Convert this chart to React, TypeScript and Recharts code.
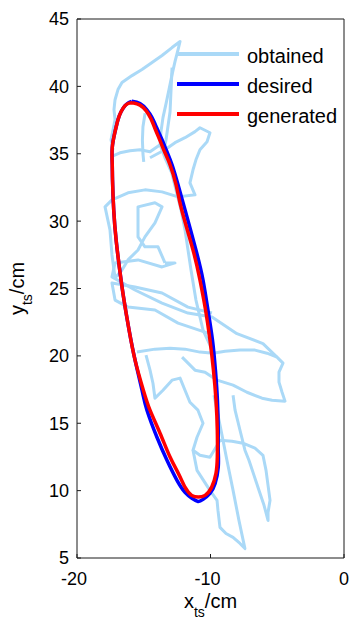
import { LineChart, Line, XAxis, YAxis } from "recharts";

// axis ticks
const xTicks = [-20, -10, 0];
const yTicks = [5, 10, 15, 20, 25, 30, 35, 40, 45];

// desired trajectory (blue), [x, y] in cm
const desired = [
  [-15.9, 38.89], [-15.28, 38.72], [-14.78, 38.27], [-14.38, 37.68], [-14.03, 36.93],
  [-13.63, 36.04], [-13.26, 35.15], [-12.88, 34.18], [-12.43, 32.7], [-11.91, 30.84],
  [-11.09, 27.86], [-10.56, 25.63], [-10.19, 23.4], [-9.85, 21.17], [-9.63, 18.94],
  [-9.48, 16.71], [-9.42, 14.48], [-9.42, 13.0], [-9.42, 11.73], [-9.66, 10.52],
  [-10.04, 9.8], [-10.56, 9.35], [-10.94, 9.2], [-11.39, 9.43], [-11.91, 9.87],
  [-12.51, 10.76], [-13.26, 12.25], [-14.01, 13.96], [-14.76, 15.97], [-15.13, 17.45],
  [-15.65, 19.68], [-16.1, 21.92], [-16.48, 24.14], [-16.8, 26.38], [-17.07, 28.61],
  [-17.25, 30.84], [-17.34, 33.07], [-17.36, 34.18], [-17.36, 35.45], [-17.15, 36.64],
  [-16.93, 37.53], [-16.7, 38.12], [-16.4, 38.57], [-16.14, 38.79], [-15.9, 38.89],
];

// generated trajectory (red)
const generated = [
  [-15.84, 38.79], [-15.28, 38.61], [-14.83, 38.2], [-14.46, 37.6], [-14.12, 36.78],
  [-13.78, 35.97], [-13.41, 35.07], [-13.03, 34.18], [-12.58, 32.7], [-12.16, 30.84],
  [-11.31, 27.86], [-10.79, 25.63], [-10.37, 23.4], [-10.04, 21.17], [-9.78, 18.94],
  [-9.59, 16.71], [-9.49, 14.48], [-9.49, 12.47], [-9.59, 11.28], [-9.91, 10.26],
  [-10.41, 9.65], [-10.91, 9.52], [-11.41, 9.65], [-11.91, 10.26], [-12.41, 11.28],
  [-13.03, 12.49], [-13.78, 14.26], [-14.53, 15.97], [-15.03, 17.45], [-15.65, 19.68],
  [-16.1, 21.92], [-16.48, 24.14], [-16.8, 26.38], [-17.07, 28.61], [-17.25, 30.84],
  [-17.34, 33.07], [-17.36, 34.18], [-17.36, 35.45], [-17.15, 36.64], [-16.93, 37.53],
  [-16.7, 38.12], [-16.4, 38.57], [-16.1, 38.76], [-15.84, 38.79],
];

// obtained (measured) trajectory, light blue, in pieces
const obtainedTop = [
  [-17.3, 35.3], [-17.45, 36.04], [-17.3, 36.78], [-17.15, 37.53], [-17.23, 38.27],
  [-17.15, 39.01], [-16.93, 39.76], [-16.63, 40.28], [-15.88, 40.8], [-15.13, 41.25],
  [-14.38, 41.77], [-13.63, 42.29], [-12.88, 42.88], [-12.28, 43.33], [-12.43, 42.73],
  [-12.66, 41.84], [-12.88, 40.87], [-13.11, 39.76], [-13.33, 38.72], [-13.56, 37.68],
  [-13.71, 36.64], [-13.78, 35.67], [-14.53, 35.15], [-15.28, 35.3], [-16.03, 35.22],
  [-16.78, 35.07], [-17.3, 34.85],
];
const obtainedTopInner = [
  [-12.88, 41.39], [-13.03, 38.12], [-13.33, 36.04], [-13.5, 35.2],
];
const obtainedTopMiddle = [
  [-14.9, 38.0], [-15.06, 37.0], [-15.1, 36.0], [-15.06, 35.0], [-15.0, 34.4],
];
const obtainedUpperRight = [
  [-14.53, 34.7], [-13.41, 35.3], [-12.66, 35.82], [-11.91, 36.19], [-11.16, 36.64],
  [-10.79, 36.93], [-10.04, 36.56], [-10.26, 35.89], [-10.79, 35.3], [-11.09, 34.55],
  [-11.31, 33.81], [-11.54, 32.84], [-11.16, 31.95], [-12.43, 31.8], [-13.63, 32.17],
  [-14.91, 32.32], [-16.18, 32.1], [-17.38, 31.58], [-17.9, 31.06], [-17.53, 29.35],
  [-17.38, 27.49], [-17.15, 25.78],
];
const obtainedDiagonal = [
  [-13.78, 35.67], [-13.41, 34.7], [-12.91, 33.59], [-12.21, 30.84], [-11.91, 29.35],
  [-11.46, 26.38], [-11.09, 24.14], [-10.56, 21.92], [-10.04, 20.8], [-9.81, 20.2],
];
const obtainedUpperTangle = [
  [-17.15, 25.78], [-16.63, 26.38], [-16.18, 27.12], [-15.43, 27.86], [-14.91, 28.83],
  [-14.16, 29.87], [-13.63, 31.06], [-14.16, 31.36], [-15.43, 31.06], [-15.43, 28.83],
  [-14.91, 28.09], [-13.93, 28.09], [-13.41, 26.9],
];
const obtainedLowerTangle = [
  [-13.41, 26.9], [-12.66, 26.9], [-13.63, 26.6], [-15.43, 27.12], [-17.15, 26.9],
  [-17.38, 25.86], [-15.66, 24.89], [-13.63, 23.92], [-11.69, 23.18], [-9.89, 22.88],
  [-8.02, 21.65], [-6.07, 20.91], [-5.02, 19.91],
];
const obtainedLowerTangleB = [
  [-9.89, 23.18], [-11.69, 23.62], [-13.63, 24.67], [-15.66, 25.11], [-17.38, 25.41],
  [-17.15, 24.14], [-16.18, 23.62], [-14.16, 23.4], [-12.43, 22.43], [-10.19, 21.69],
];
const obtainedMiddle = [
  [-15.51, 20.28], [-14.16, 20.5], [-13.03, 20.57], [-11.91, 20.5], [-10.79, 20.28],
  [-9.81, 20.2], [-8.91, 20.35], [-7.79, 20.43], [-6.67, 20.43], [-5.77, 20.2],
  [-5.02, 19.91], [-4.57, 19.46], [-4.87, 18.79], [-4.87, 18.05], [-4.64, 17.3],
  [-4.42, 16.64], [-5.39, 16.71], [-6.14, 16.86], [-7.27, 17.3], [-8.31, 17.83],
  [-9.51, 18.2], [-10.41, 18.79], [-11.16, 18.94], [-12.13, 19.91],
];
const obtainedLowerA = [
  [-14.83, 20.05], [-14.53, 18.94], [-14.31, 17.97], [-14.16, 16.86], [-13.56, 17.45],
  [-12.88, 18.2], [-12.28, 18.35], [-11.91, 17.45], [-11.54, 16.56], [-10.94, 15.97],
  [-10.56, 15.0], [-11.01, 13.96], [-11.31, 13.0], [-10.79, 12.62], [-10.04, 12.47],
  [-9.59, 13.22], [-9.29, 13.74], [-8.39, 13.67], [-7.57, 13.52], [-6.67, 13.15],
  [-6.07, 12.62], [-5.84, 11.5], [-5.69, 10.39], [-5.54, 9.28], [-5.69, 8.38],
  [-5.69, 7.79], [-5.99, 8.91], [-6.37, 10.02], [-6.74, 11.13], [-7.12, 12.25],
  [-7.42, 13.0], [-7.79, 14.48], [-8.16, 15.97], [-8.31, 17.08],
];
const obtainedLowerB = [
  [-11.31, 13.0], [-11.01, 11.5], [-10.04, 10.02], [-9.51, 9.28], [-9.44, 8.53],
  [-9.29, 7.27], [-8.84, 6.82], [-8.31, 6.53], [-7.79, 6.08], [-7.42, 5.7],
  [-7.87, 7.79], [-8.31, 10.02], [-8.77, 12.25], [-9.21, 14.48], [-9.74, 17.08],
];

const obtainedParts = [
  obtainedTop, obtainedTopInner, obtainedTopMiddle, obtainedUpperRight, obtainedDiagonal,
  obtainedUpperTangle, obtainedLowerTangle, obtainedLowerTangleB, obtainedMiddle,
  obtainedLowerA,
];

const toPoints = (pairs: number[][]) => pairs.map(([x, y]) => ({ x, y }));

const FONT = "'Liberation Sans', Arial, Helvetica, sans-serif";
const OBTAINED = "#aad9f7";
const DESIRED = "#0000ff";
const GENERATED = "#ff0000";
const AXIS = "#1a1a1a";

const legendItems = [
  { label: "obtained", color: OBTAINED },
  { label: "desired", color: DESIRED },
  { label: "generated", color: GENERATED },
];

const XTick = (props: any) => {
  const { x, y, payload } = props;
  const shift = payload.value < 0 ? -3 : 0;
  return (
    <text x={x + shift} y={y + 27} textAnchor="middle" fontSize={18} fontFamily={FONT} fill="#000">
      {payload.value}
    </text>
  );
};

const XTitle = (props: any) => {
  const vb = props.viewBox ?? { x: 77, y: 558, width: 267, height: 61 };
  const cx = vb.x + vb.width / 2;
  return (
    <text x={cx} y={vb.y + 50} textAnchor="middle" fontSize={20} fontFamily={FONT} fill="#000">
      x<tspan fontSize={14} dy={9}>ts</tspan>
      <tspan dy={-9}>/cm</tspan>
    </text>
  );
};

const YTitle = (props: any) => {
  const vb = props.viewBox ?? { x: 0, y: 19, width: 77, height: 539 };
  const cx = vb.x + 24;
  const cy = vb.y + vb.height / 2;
  return (
    <text
      x={cx}
      y={cy}
      transform={`rotate(-90 ${cx} ${cy})`}
      textAnchor="middle"
      fontSize={20}
      fontFamily={FONT}
      fill="#000"
    >
      y<tspan fontSize={14} dy={8}>ts</tspan>
      <tspan dy={-8}>/cm</tspan>
    </text>
  );
};

export default function App() {
  return (
    <div style={{ position: "absolute", left: 0, top: 0, width: 350, height: 619, background: "#fff" }}>
      <LineChart width={350} height={619} margin={{ top: 18, right: 5, bottom: 0, left: 0 }}>
        <XAxis
          xAxisId="bottom"
          dataKey="x"
          type="number"
          domain={[-20, 0]}
          ticks={xTicks}
          allowDataOverflow
          height={61}
          tickSize={-4}
          tickMargin={4}
          tick={<XTick />}
          stroke={AXIS}
          label={{ content: XTitle }}
        />
        <XAxis
          xAxisId="top"
          orientation="top"
          dataKey="x"
          type="number"
          domain={[-20, 0]}
          ticks={xTicks}
          allowDataOverflow
          height={1}
          tickSize={-4}
          tick={false}
          stroke={AXIS}
        />
        <YAxis
          yAxisId="left"
          type="number"
          domain={[5, 45]}
          ticks={yTicks}
          allowDataOverflow
          width={77}
          tickSize={-4}
          tickMargin={12}
          tick={{ fontSize: 18, fill: "#000", fontFamily: FONT }}
          stroke={AXIS}
          label={{ content: YTitle }}
        />
        <YAxis
          yAxisId="right"
          orientation="right"
          type="number"
          domain={[5, 45]}
          ticks={yTicks}
          allowDataOverflow
          width={1}
          tickSize={-4}
          tick={false}
          stroke={AXIS}
        />
        {obtainedParts.map((part, i) => (
          <Line
            key={`obtained-${i}`}
            xAxisId="bottom"
            yAxisId="left"
            data={toPoints(part)}
            dataKey="y"
            type="linear"
            stroke={OBTAINED}
            strokeWidth={3}
            strokeLinejoin="round"
            dot={false}
            activeDot={false}
            isAnimationActive={false}
          />
        ))}
        <Line
          xAxisId="top"
          yAxisId="right"
          data={toPoints(obtainedLowerB)}
          dataKey="y"
          type="linear"
          stroke={OBTAINED}
          strokeWidth={3}
          strokeLinejoin="round"
          dot={false}
          activeDot={false}
          isAnimationActive={false}
        />
        <Line
          xAxisId="bottom"
          yAxisId="left"
          data={toPoints(desired)}
          dataKey="y"
          type="natural"
          stroke={DESIRED}
          strokeWidth={3.5}
          dot={false}
          activeDot={false}
          isAnimationActive={false}
        />
        <Line
          xAxisId="bottom"
          yAxisId="left"
          data={toPoints(generated)}
          dataKey="y"
          type="natural"
          stroke={GENERATED}
          strokeWidth={3.5}
          dot={false}
          activeDot={false}
          isAnimationActive={false}
        />
      </LineChart>
      <div style={{ position: "absolute", left: 177, top: 39, fontFamily: FONT, fontSize: 20, color: "#000" }}>
        {legendItems.map((item) => (
          <div key={item.label} style={{ display: "flex", alignItems: "center", height: 30 }}>
            <span style={{ display: "inline-block", width: 62, height: 4, background: item.color }} />
            <span style={{ marginLeft: 8, marginTop: 3, lineHeight: "20px" }}>{item.label}</span>
          </div>
        ))}
      </div>
    </div>
  );
}
